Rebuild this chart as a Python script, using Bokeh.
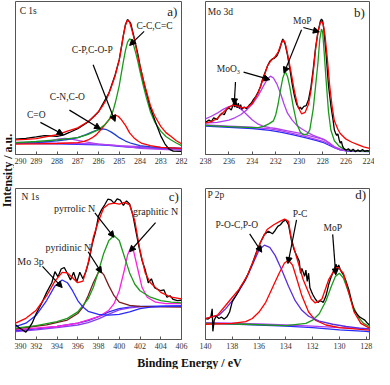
from bokeh.plotting import figure
from bokeh.layouts import row, column
from bokeh.models import Range1d, FixedTicker, Label, Arrow, NormalHead
from bokeh.embed import file_html
from bokeh.resources import INLINE

SERIF = "Liberation Serif"

# ---------------- Panel a: C 1s ----------------
a_xrange = (290, 282)
a_ticks = [290, 289, 288, 287, 286, 285, 284, 283, 282]
a_env_x = [290, 289.5, 289, 288.5, 288, 287.5, 287, 286.5, 286.2, 286, 285.8, 285.6, 285.4, 285.2, 285.0, 284.9, 284.8, 284.7, 284.6, 284.5, 284.4, 284.3, 284.2, 284.1, 284.0, 283.85, 283.7, 283.5, 283.3, 283.0, 282.75, 282.5, 282.25, 282.0]
a_env_y = [9.5, 9.9, 10.4, 11.7, 12.9, 15.3, 17.4, 21.6, 25.0, 28.0, 31.8, 36.5, 43.5, 51.3, 61.8, 69.5, 77.8, 84.5, 87.9, 86.5, 82.0, 76.5, 70.3, 64.0, 57.6, 49.5, 41.8, 32.1, 25.5, 18.4, 14.3, 11.7, 9.0, 7.0]
a_raw_x = [290, 289.5, 289, 288.6, 288.3, 288, 287.7, 287.4, 287, 286.5, 286, 285.5, 285.2, 285.0, 284.8, 284.7, 284.6, 284.45, 284.3, 284.1, 284.0, 283.8, 283.5, 283.2, 283.0, 282.8, 282.6, 282.4, 282.0]
a_raw_y = [10.0, 10.5, 11.5, 12.4, 12.2, 11.9, 12.7, 14.4, 16.9, 21.2, 27.9, 40.1, 52.0, 62.0, 78.0, 85.0, 88.3, 85.8, 77.5, 65.5, 58.2, 46.0, 30.5, 19.2, 12.2, 7.0, 3.5, 2.2, 2.0]
a_cc_x = [290, 289, 288, 287, 286.5, 286, 285.7, 285.5, 285.3, 285.2, 285.1, 285.0, 284.9, 284.8, 284.7, 284.6, 284.5, 284.4, 284.3, 284.2, 284.1, 284.0, 283.85, 283.7, 283.5, 283.3, 283.0, 282.75, 282.5, 282.25, 282.0]
a_cc_y = [7.8, 8.5, 9.5, 11.0, 13.1, 16.3, 19.5, 22.6, 28.5, 33.3, 39.0, 45.0, 53.0, 60.8, 68.0, 73.5, 75.6, 74.6, 71.0, 66.1, 60.5, 54.4, 45.5, 37.5, 28.0, 21.5, 15.3, 11.8, 9.5, 7.5, 5.8]
a_cp_x = [290, 289, 288, 287, 286.7, 286.5, 286.3, 286.1, 285.9, 285.7, 285.5, 285.35, 285.2, 285.05, 284.9, 284.7, 284.5, 284.3, 284.1, 283.9, 283.5, 283, 282]
a_cp_y = [6.8, 7.0, 7.2, 7.8, 8.6, 9.5, 11.0, 13.0, 16.0, 19.2, 22.6, 24.8, 25.8, 25.0, 22.8, 19.0, 14.1, 11.0, 8.8, 7.2, 5.8, 4.6, 4.0]
a_cn_x = [290, 289, 288, 287.5, 287, 286.6, 286.3, 286.0, 285.8, 285.6, 285.4, 285.2, 285.0, 284.7, 284.4, 284.0, 283.5, 283, 282]
a_cn_y = [7.4, 7.8, 8.9, 9.8, 11.0, 13.0, 14.8, 16.2, 16.7, 16.2, 14.8, 13.0, 11.0, 8.8, 7.2, 5.8, 5.0, 4.6, 4.0]
a_co_x = [290, 289, 288.5, 288.2, 287.9, 287.6, 287.3, 287.0, 286.6, 286.0, 285, 284, 283, 282]
a_co_y = [7.4, 7.8, 8.4, 9.3, 10.2, 10.6, 10.1, 9.3, 8.2, 6.8, 5.8, 5.1, 4.4, 4.0]
a_bg_x = [290, 289, 288, 287, 286, 285.5, 285, 284.5, 284, 283, 282]
a_bg1_y = [7.4, 7.2, 7.0, 6.7, 6.3, 5.9, 5.3, 4.8, 4.4, 4.0, 3.6]
a_bg2_y = [7.9, 7.7, 7.5, 7.2, 6.8, 6.3, 5.6, 4.8, 4.1, 3.3, 2.8]
a_lab_text = ["C-C,C=C", "C-P,C-O-P", "C-N,C-O", "C=O"]
a_lab_x = [283.3, 286.3, 287.5, 289.0]
a_lab_y = [84.1, 68.3, 37.5, 25.8]
a_arr_x0 = [283.8, 286.26, 287.4, 288.8]
a_arr_y0 = [80.5, 58.6, 29.0, 21.0]
a_arr_x1 = [284.5, 285.2, 285.9, 287.7]
a_arr_y1 = [71.3, 21.6, 16.7, 13.1]

# ---------------- Panel b: Mo 3d ----------------
b_xrange = (238, 224)
b_ticks = [238, 236, 234, 232, 230, 228, 226, 224]
b_env_x = [238, 237.5, 237, 236.5, 236, 235.6, 235.2, 234.8, 234.4, 234, 233.5, 233, 232.7, 232.4, 232.1, 231.8, 231.5, 231.35, 231.2, 231, 230.7, 230.4, 230.1, 229.8, 229.5, 229.2, 229, 228.8, 228.6, 228.4, 228.2, 228.1, 227.95, 227.8, 227.6, 227.4, 227.2, 227, 226.7, 226.5, 226, 225.5, 225, 224.5, 224]
b_env_y = [20.6, 21.5, 23.5, 27.5, 31.0, 32.5, 31.5, 30.5, 31.0, 33.4, 40.4, 51.0, 58.0, 61.5, 63.5, 67.0, 73.0, 75.0, 73.0, 66.0, 54.0, 41.0, 31.0, 26.6, 27.5, 33.0, 41.5, 54.0, 69.0, 80.0, 86.0, 87.0, 85.0, 78.0, 62.8, 45.0, 32.0, 22.0, 16.5, 13.7, 10.0, 8.0, 6.5, 5.0, 4.0]
b_raw_x = [238.0, 237.7, 237.5, 237.3, 237.0, 236.8, 236.6, 236.4, 236.2, 236.0, 235.8, 235.6, 235.5, 235.4, 235.3, 235.2, 235.1, 235.0, 234.9, 234.7, 234.5, 234.3, 234.1, 233.9, 233.7, 233.5, 233.3, 233.1, 232.9, 232.7, 232.5, 232.3, 232.1, 231.9, 231.7, 231.5, 231.4, 231.2, 231.0, 230.8, 230.6, 230.4, 230.2, 230.0, 229.9, 229.8, 229.6, 229.4, 229.2, 229.0, 228.8, 228.6, 228.4, 228.2, 228.1, 228.0, 227.9, 227.7, 227.5, 227.3, 227.1, 227.0, 226.9, 226.8, 226.7, 226.6, 226.5, 226.4, 226.3, 226.2, 226.0, 225.8, 225.6, 225.4, 225.2, 225.0, 224.8, 224.6, 224.4, 224.2, 224.0]
b_raw_y = [21.0, 22.5, 21.5, 24.0, 23.0, 25.5, 27.0, 26.0, 29.5, 30.5, 29.0, 33.5, 31.0, 34.5, 30.5, 33.5, 30.0, 32.5, 29.5, 31.0, 30.0, 32.0, 33.5, 36.0, 38.0, 41.0, 44.5, 50.0, 54.0, 58.0, 61.0, 62.5, 63.0, 64.5, 68.0, 73.5, 75.5, 72.0, 65.0, 56.0, 46.0, 38.0, 32.5, 30.0, 31.0, 29.5, 31.5, 32.0, 36.0, 44.0, 56.0, 70.0, 80.0, 87.0, 88.5, 87.5, 82.0, 65.0, 45.0, 32.0, 22.0, 16.0, 14.0, 12.5, 13.5, 10.0, 7.5, 8.5, 5.5, 4.0, 2.8, 3.8, 2.0, 3.5, 1.8, 3.0, 2.0, 3.2, 2.0, 2.6, 2.2]
b_mop_x = [238, 237, 236, 235, 234, 233.5, 233, 232.6, 232.2, 232.0, 231.8, 231.6, 231.4, 231.2, 231.0, 230.8, 230.5, 230.2, 229.9, 229.6, 229.3, 229.1, 228.8, 228.6, 228.4, 228.25, 228.1, 228.0, 227.9, 227.7, 227.5, 227.3, 227.0, 226.6, 226.2, 225.5, 224]
b_mop_y = [19.0, 18.6, 18.2, 17.9, 17.6, 17.6, 18.5, 20.0, 22.0, 26.0, 33.0, 42.0, 50.0, 54.3, 51.0, 44.0, 31.0, 20.0, 14.5, 12.8, 13.5, 16.0, 30.0, 45.0, 60.0, 75.0, 82.0, 80.0, 70.0, 48.0, 28.0, 16.0, 9.0, 5.5, 3.5, 2.5, 2.0]
b_oxa_x = [238, 237.5, 237, 236.5, 236, 235.6, 235.2, 234.8, 234.4, 234, 233.5, 233, 232.5, 232, 231, 230, 229, 228, 227.5, 227, 226.5, 226, 224]
b_oxa_y = [23.3, 25.0, 27.0, 29.5, 31.3, 32.0, 31.0, 28.5, 25.5, 22.5, 19.8, 18.3, 17.6, 17.0, 15.5, 14.0, 12.0, 10.0, 8.0, 5.0, 3.5, 2.8, 2.2]
b_oxb_x = [238, 237, 236, 235.5, 235, 234.5, 234, 233.5, 233, 232.7, 232.45, 232.2, 231.9, 231.6, 231.3, 231, 230.6, 230.2, 229.8, 229.3, 228.8, 228.3, 227.8, 227.3, 227, 226.5, 226, 224]
b_oxb_y = [20.5, 21.0, 22.5, 24.0, 26.0, 29.0, 33.0, 38.5, 45.5, 49.5, 51.2, 50.0, 46.0, 40.0, 33.0, 27.0, 22.5, 19.0, 16.8, 14.5, 12.5, 11.0, 9.5, 6.5, 4.5, 3.0, 2.6, 2.2]
b_bg_x = [238, 236, 234, 232.5, 231.5, 230.5, 229.5, 228.5, 228, 227.5, 227, 226.5, 226, 224]
b_bg1_y = [18.6, 17.8, 17.0, 15.8, 14.5, 12.8, 11.0, 9.0, 8.0, 6.2, 4.5, 3.0, 2.3, 1.9]
b_bg2_y = [19.3, 18.6, 17.8, 16.7, 15.4, 13.6, 11.8, 9.8, 8.8, 6.9, 5.0, 3.4, 2.6, 2.1]
b_lab_text = ["MoO\u2083", "MoP"]
b_lab_x = [236.04, 229.74]
b_lab_y = [56.0, 87.2]
b_arr_x0 = [234.75, 235.44, 229.65, 229.8]
b_arr_y0 = [53.8, 47.4, 83.0, 81.5]
b_arr_x1 = [232.5, 235.55, 228.28, 231.3]
b_arr_y1 = [48.9, 32.5, 80.2, 53.2]

# ---------------- Panel c: N 1s ----------------
c_xrange = (390, 406)
c_ticks = [390, 392, 394, 396, 398, 400, 402, 404, 406]
c_env_x = [390, 391, 392, 393, 393.8, 394.5, 395, 395.5, 396, 396.5, 397, 397.5, 398, 398.5, 399, 399.5, 400, 400.5, 401, 401.5, 402, 402.5, 403, 404, 405, 406]
c_env_y = [10.8, 14.0, 19.4, 29.0, 38.7, 44.5, 44.1, 40.9, 37.6, 38.7, 50.5, 67.7, 78.5, 87.1, 89.7, 90.3, 89.7, 90.8, 89.2, 78.5, 59.1, 44.1, 37.6, 31.2, 28.0, 26.9]
c_raw_x = [390, 390.5, 391.0, 391.3, 391.6, 392, 392.5, 393, 393.5, 393.8, 394.1, 394.4, 394.7, 395.0, 395.3, 395.6, 395.9, 396.2, 396.5, 396.8, 397.1, 397.4, 397.7, 398.0, 398.3, 398.6, 398.9, 399.2, 399.5, 399.8, 400.1, 400.4, 400.7, 401.0, 401.3, 401.6, 401.9, 402.2, 402.5, 402.8, 403.1, 403.4, 403.7, 404.0, 404.3, 404.6, 404.9, 405.2, 405.6, 406.0]
c_raw_y = [9.7, 7.1, 4.9, 7.5, 10.8, 17.2, 23.7, 31.2, 37.6, 44.9, 41.5, 46.7, 47.7, 43.7, 39.4, 44.5, 38.1, 44.5, 40.2, 45.2, 52.7, 63.4, 71.0, 81.7, 86.0, 89.2, 92.9, 92.5, 90.3, 93.1, 92.3, 88.8, 91.8, 89.7, 82.8, 72.0, 61.3, 52.3, 46.2, 37.6, 40.2, 34.4, 33.3, 32.3, 32.9, 28.0, 29.0, 26.5, 25.8, 26.0]
c_mo_x = [390, 391, 392, 393, 393.8, 394.5, 395, 395.5, 396, 396.5, 397, 398, 399, 400, 401, 402, 403, 404, 406]
c_mo_y = [8.6, 10.8, 16.1, 25.8, 35.5, 39.4, 37.6, 32.3, 25.8, 21.5, 18.7, 16.6, 16.1, 16.6, 18.3, 20.4, 21.5, 21.9, 22.2]
c_pyrr_x = [390, 392, 394, 395, 396, 397, 397.5, 398, 398.5, 399, 399.5, 400, 400.5, 401, 401.5, 402, 403, 404, 405, 406]
c_pyrr_y = [7.5, 9.2, 11.8, 14.0, 18.3, 26.9, 34.4, 45.2, 57.0, 65.6, 68.8, 65.6, 54.8, 44.1, 36.6, 32.3, 28.0, 25.8, 24.7, 24.3]
c_pyri_x = [390, 393, 395, 396, 396.5, 397, 397.5, 398, 398.2, 398.5, 399, 399.5, 400, 401, 402, 406]
c_pyri_y = [7.1, 9.7, 12.9, 17.2, 21.5, 29.0, 37.6, 44.5, 45.2, 43.0, 35.5, 29.0, 24.7, 22.6, 21.9, 21.5]
c_gra_x = [390, 394, 396, 398, 399, 399.5, 400, 400.5, 400.8, 401.1, 401.4, 401.8, 402.2, 402.7, 403.5, 404.5, 406]
c_gra_y = [6.5, 8.6, 10.8, 15.1, 19.4, 23.7, 32.3, 46.2, 55.9, 60.9, 58.1, 46.2, 34.4, 28.0, 24.7, 23.7, 23.7]
c_bg_x = [390, 392, 394, 396, 397, 398, 399, 400, 401, 402, 406]
c_bg1_y = [5.8, 7.1, 8.6, 10.8, 12.5, 15.1, 18.3, 20.4, 21.5, 21.9, 22.2]
c_bg2_y = [5.2, 6.4, 7.8, 9.6, 11.2, 13.6, 16.8, 19.6, 21.0, 21.6, 22.0]
c_lab_text = ["Mo 3p", "pyridinic N", "pyrrolic N", "graphitic N"]
c_lab_x = [391.45, 395.1, 395.7, 403.5]
c_lab_y = [51.6, 60.9, 86.7, 84.5]
c_arr_x0 = [392.6, 397.0, 397.65, 403.5]
c_arr_y0 = [48.4, 58.1, 83.9, 77.4]
c_arr_x1 = [394.5, 398.3, 399.5, 401.0]
c_arr_y1 = [34.4, 44.1, 67.7, 58.1]

# ---------------- Panel d: P 2p ----------------
d_xrange = (140, 127.75)
d_ticks = [140, 138, 136, 134, 132, 130, 128]
d_env_x = [140, 139.1, 138.5, 138.1, 137.5, 136.9, 136.4, 135.9, 135.4, 134.9, 134.45, 134.1, 133.8, 133.6, 133.2, 132.7, 132.1, 131.8, 131.3, 130.8, 130.3, 130.1, 129.7, 129.3, 128.9, 128.4, 127.75]
d_env_y = [13.9, 16.1, 22.5, 26.8, 33.2, 41.8, 52.5, 64.2, 72.8, 76.0, 78.2, 79.7, 78.2, 67.5, 54.6, 39.6, 26.8, 24.2, 26.8, 39.6, 47.1, 47.8, 43.9, 31.0, 18.2, 10.7, 7.5]
d_raw_x = [140.0, 139.8, 139.6, 139.5, 139.45, 139.35, 139.2, 139.0, 138.8, 138.6, 138.4, 138.2, 138.0, 137.7, 137.4, 137.1, 136.8, 136.5, 136.2, 135.9, 135.6, 135.3, 135.0, 134.8, 134.6, 134.4, 134.2, 134.0, 133.8, 133.6, 133.4, 133.2, 133.0, 132.9, 132.8, 132.6, 132.5, 132.4, 132.3, 132.2, 132.0, 131.8, 131.6, 131.4, 131.2, 131.0, 130.8, 130.6, 130.4, 130.25, 130.15, 130.05, 129.9, 129.7, 129.5, 129.3, 129.1, 128.9, 128.7, 128.5, 128.3, 128.1, 127.9, 127.75]
d_raw_y = [13.9, 13.5, 15.0, 20.3, 5.4, 12.8, 15.6, 13.9, 14.8, 13.5, 15.0, 18.2, 25.1, 29.3, 34.3, 38.5, 43.9, 50.3, 57.8, 64.2, 69.6, 71.7, 70.0, 72.2, 74.9, 76.0, 78.2, 79.2, 76.0, 66.4, 60.0, 55.7, 52.0, 43.9, 47.1, 41.8, 46.0, 38.5, 43.9, 34.3, 30.0, 26.8, 24.6, 25.7, 24.6, 28.9, 36.4, 41.8, 46.0, 49.9, 47.1, 49.3, 45.6, 42.8, 38.5, 33.2, 25.7, 19.3, 17.1, 15.0, 13.9, 12.8, 10.7, 9.6]
d_pc_x = [140, 138, 137, 136.5, 136, 135.5, 135, 134.5, 134.1, 133.8, 133.5, 133.2, 132.8, 132.3, 131.8, 131, 130, 128, 127.75]
d_pc_y = [10.1, 10.7, 11.8, 13.9, 18.2, 24.6, 34.3, 43.9, 50.7, 52.5, 49.3, 40.7, 28.9, 18.2, 12.8, 9.6, 7.9, 6.4, 6.2]
d_poc_x = [140, 139, 138.5, 138, 137.5, 137, 136.5, 136, 135.6, 135.2, 134.8, 134.3, 133.8, 133.3, 132.8, 132.3, 131.5, 130.5, 129.5, 128.5, 127.75]
d_poc_y = [13.9, 16.1, 20.3, 25.7, 32.1, 39.6, 49.3, 59.3, 62.5, 61.0, 55.7, 46.0, 35.3, 25.7, 19.3, 15.4, 12.2, 10.1, 8.6, 7.5, 7.1]
d_mop_x = [140, 137, 134, 132.5, 132, 131.5, 131, 130.6, 130.3, 130.0, 129.7, 129.3, 129.0, 128.6, 128.2, 127.75]
d_mop_y = [10.7, 10.1, 9.2, 10.7, 12.8, 17.1, 25.7, 35.3, 41.8, 43.9, 40.7, 31.0, 22.5, 15.0, 10.7, 8.6]
d_bg_x = [140, 138, 136, 134, 132, 130, 128, 127.75]
d_bg1_y = [10.7, 10.2, 9.6, 8.8, 7.9, 6.4, 5.4, 5.1]
d_bg2_y = [11.2, 10.8, 10.3, 9.6, 8.9, 7.9, 7.2, 7.0]
d_lab_text = ["P-O-C,P-O", "P-C", "MoP"]
d_lab_x = [137.66, 132.94, 130.5]
d_lab_y = [76.0, 82.9, 73.9]
d_arr_x0 = [136.7, 133.2, 130.5]
d_arr_y0 = [70.0, 79.2, 69.6]
d_arr_x1 = [135.8, 133.84, 130.27]
d_arr_y1 = [57.8, 50.3, 42.8]

# corner labels: (title, title_x, title_y, tag, tag_x, tag_y)
a_corner = ("C 1s", 289.8, 93.6, "a)", 282.2, 93.6)
b_corner = ("Mo 3d", 237.8, 93.0, "b)", 224.4, 93.0)
c_corner = ("N 1s", 390.57, 94.6, "c)", 405.75, 94.6)
d_corner = ("P 2p", 139.85, 96.0, "d)", 128.0, 96.0)

BLACK = "#000000"
RED = "#ff0000"
GREEN = "#1a9a1a"
BLUE = "#2a2aff"
VIOLET = "#b040f0"
PURPLE = "#8a3cf0"
BROWN = "#7a1e1e"
MAGENTA = "#ff22dd"
INDIGO = "#5a2ee0"
LW = 1.3


def panel(xrange, ticks, w, h, ml, mr, mt, mb):
    p = figure(width=w, height=h, x_range=Range1d(*xrange), y_range=Range1d(0, 100),
               output_backend="svg", toolbar_location=None, y_axis_type=None,
               min_border_left=ml, min_border_right=mr, min_border_top=mt, min_border_bottom=mb)
    p.xgrid.visible = False
    p.ygrid.visible = False
    p.outline_line_color = "#555555"
    p.outline_line_width = 1
    ax = p.xaxis[0]
    ax.ticker = FixedTicker(ticks=ticks)
    ax.major_tick_in = 3
    ax.major_tick_out = 0
    ax.minor_tick_in = 0
    ax.minor_tick_out = 0
    ax.axis_line_color = "#555555"
    ax.major_tick_line_color = "#555555"
    ax.major_label_text_font = SERIF
    ax.major_label_text_font_size = "8px"
    ax.major_label_text_color = "#333333"
    ax.major_label_standoff = 3
    p.background_fill_color = "white"
    p.border_fill_color = "white"
    return p


def line(p, x, y, color, lw=LW):
    p.line(x, y, line_color=color, line_width=lw)


def annotate(p, texts, lx, ly, x0, y0, x1, y1, corner, size="9.5px"):
    for t, x, y in zip(texts, lx, ly):
        p.add_layout(Label(x=x, y=y, text=t, text_font=SERIF, text_font_size=size,
                           text_align="center", text_baseline="middle", text_color="#222222"))
    for xs, ys, xe, ye in zip(x0, y0, x1, y1):
        p.add_layout(Arrow(end=NormalHead(size=6, fill_color=BLACK, line_color=BLACK, line_width=1),
                           x_start=xs, y_start=ys, x_end=xe, y_end=ye,
                           line_color=BLACK, line_width=1.2))
    title, tx, ty, tag, gx, gy = corner
    p.add_layout(Label(x=tx, y=ty, text=title, text_font=SERIF, text_font_size="9.5px",
                       text_align="left", text_baseline="middle", text_color="#222222"))
    p.add_layout(Label(x=gx, y=gy, text=tag, text_font=SERIF, text_font_size="13px",
                       text_align="right", text_baseline="middle", text_color="#222222"))


# --- a ---
pa = panel(a_xrange, a_ticks, 178, 174, 1, 11, 1, 20)
line(pa, a_bg_x, a_bg1_y, BLUE)
line(pa, a_bg_x, a_bg2_y, VIOLET)
line(pa, a_co_x, a_co_y, VIOLET)
line(pa, a_cn_x, a_cn_y, "#2040d0")
line(pa, a_cp_x, a_cp_y, RED)
line(pa, a_cc_x, a_cc_y, GREEN)
line(pa, a_raw_x, a_raw_y, BLACK)
line(pa, a_env_x, a_env_y, RED)
annotate(pa, a_lab_text, a_lab_x, a_lab_y, a_arr_x0, a_arr_y0, a_arr_x1, a_arr_y1, a_corner)

# --- b ---
pb = panel(b_xrange, b_ticks, 182, 174, 13, 5, 1, 20)
line(pb, b_bg_x, b_bg1_y, BLUE)
line(pb, b_bg_x, b_bg2_y, VIOLET)
line(pb, b_oxa_x, b_oxa_y, VIOLET)
line(pb, b_oxb_x, b_oxb_y, VIOLET)
line(pb, b_mop_x, b_mop_y, GREEN)
line(pb, b_raw_x, b_raw_y, BLACK)
line(pb, b_env_x, b_env_y, RED)
annotate(pb, b_lab_text, b_lab_x, b_lab_y, b_arr_x0, b_arr_y0, b_arr_x1, b_arr_y1, b_corner)

# --- c ---
pc = panel(c_xrange, c_ticks, 178, 180, 1, 11, 14, 15)
line(pc, c_bg_x, c_bg1_y, BLUE)
line(pc, c_bg_x, c_bg2_y, PURPLE)
line(pc, c_gra_x, c_gra_y, MAGENTA)
line(pc, c_pyri_x, c_pyri_y, BROWN)
line(pc, c_pyrr_x, c_pyrr_y, GREEN)
line(pc, c_mo_x, c_mo_y, BLUE)
line(pc, c_raw_x, c_raw_y, BLACK)
line(pc, c_env_x, c_env_y, RED)
annotate(pc, c_lab_text, c_lab_x, c_lab_y, c_arr_x0, c_arr_y0, c_arr_x1, c_arr_y1, c_corner, size="10px")

# --- d ---
pd = panel(d_xrange, d_ticks, 182, 180, 13, 5, 14, 15)
line(pd, d_bg_x, d_bg1_y, BLUE)
line(pd, d_bg_x, d_bg2_y, VIOLET)
line(pd, d_mop_x, d_mop_y, GREEN)
line(pd, d_pc_x, d_pc_y, RED)
line(pd, d_poc_x, d_poc_y, INDIGO)
line(pd, d_raw_x, d_raw_y, BLACK)
line(pd, d_env_x, d_env_y, RED)
annotate(pd, d_lab_text, d_lab_x, d_lab_y, d_arr_x0, d_arr_y0, d_arr_x1, d_arr_y1, d_corner)


def text_fig(w, h):
    f = figure(width=w, height=h, x_range=Range1d(0, 1), y_range=Range1d(0, 1),
               output_backend="svg", toolbar_location=None, x_axis_type=None, y_axis_type=None,
               min_border=0)
    f.xgrid.visible = False
    f.ygrid.visible = False
    f.outline_line_color = None
    f.border_fill_color = "white"
    f.background_fill_color = "white"
    return f


ylab = text_fig(14, 354)
ylab.add_layout(Label(x=7, y=184, x_units="screen", y_units="screen", text="Intensity / a.u.",
                      angle=1.5707963, text_font=SERIF, text_font_style="bold", text_font_size="12px",
                      text_align="center", text_baseline="middle", text_color="#111111"))
xlab = text_fig(374, 15)
xlab.add_layout(Label(x=189, y=7, x_units="screen", y_units="screen", text="Binding Energy / eV",
                      text_font=SERIF, text_font_style="bold", text_font_size="12px",
                      text_align="center", text_baseline="middle", text_color="#111111"))

layout = column(row(ylab, column(row(pa, pb), row(pc, pd))), xlab)

open("out.html", "w").write(file_html(layout, INLINE))
